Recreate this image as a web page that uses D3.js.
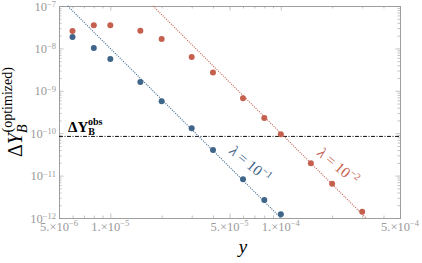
<!DOCTYPE html>
<html>
<head>
<meta charset="utf-8">
<script src="https://d3js.org/d3.v7.min.js"></script>
<style>
  body { margin: 0; background: #fff; }
  text { font-family: "Liberation Serif", "DejaVu Serif", serif; }
</style>
</head>
<body>
<script>
// data
var xBlue = [6e-6, 8e-6, 1e-5, 1.5e-5, 2e-5, 3e-5, 4e-5, 6e-5, 8e-5, 1e-4];
var yBlue = [1.86e-8, 1.02e-8, 5.6e-9, 1.61e-9, 5.7e-10, 1.31e-10, 4.0e-11, 8.2e-12, 2.66e-12, 1.22e-12];
var xRed = [6e-6, 8e-6, 1e-5, 1.5e-5, 2e-5, 3e-5, 4e-5, 6e-5, 8e-5, 1e-4, 1.5e-4, 2e-4, 3e-4];
var yRed = [2.57e-8, 3.5e-8, 3.5e-8, 2.61e-8, 1.67e-8, 6.3e-9, 2.7e-9, 6.65e-10, 2.28e-10, 9.4e-11, 1.95e-11, 6.4e-12, 1.41e-12];
// dotted fit lines (end points)
var xBlueFit = [5.62e-6, 1e-4];
var yBlueFit = [1e-7, 1e-12];
var xRedFit = [1.78e-5, 3.16e-4];
var yRedFit = [1e-7, 1e-12];
var yObs = 8.4e-11;

var xTicks = [5e-6, 1e-5, 5e-5, 1e-4, 5e-4];
var xTickMant = ["5.", "1.", "5.", "1.", "5."];
var xTickExp = ["−6", "−5", "−5", "−4", "−4"];
var yTicks = [1e-12, 1e-11, 1e-10, 1e-9, 1e-8, 1e-7];
var yTickExp = ["−12", "−11", "−10", "−9", "−8", "−7"];

const W = 422, H = 263;
const mLeft = 59, mRight = 400, mTop = 6, mBottom = 218;
const blue = "#3f6589", red = "#c5604f", gray = "#9a9a9a";

const svg = d3.select("body").append("svg")
  .attr("width", W).attr("height", H);

const x = d3.scaleLog().domain([5e-6, 5e-4]).range([mLeft, mRight]);
const y = d3.scaleLog().domain([1e-12, 1e-7]).range([mBottom, mTop]);

// minor ticks
var xMinor = [];
[1e-6, 1e-5, 1e-4].forEach(function(d) {
  for (var k = 1; k <= 9; k++) {
    var v = k * d;
    if (v >= 5e-6 && v <= 5e-4 && xTicks.every(function(t) { return Math.abs(t - v) / v > 1e-6; })) xMinor.push(v);
  }
});
var yMinor = [];
[1e-12, 1e-11, 1e-10, 1e-9, 1e-8].forEach(function(d) {
  for (var k = 2; k <= 9; k++) yMinor.push(k * d);
});

const axes = svg.append("g");
// frame ticks inward on all four sides
axes.append("g").attr("transform", "translate(0," + mBottom + ")")
  .call(d3.axisBottom(x).tickValues(xTicks).tickSize(-4.5).tickFormat(""));
axes.append("g").attr("transform", "translate(0," + mBottom + ")")
  .call(d3.axisBottom(x).tickValues(xMinor).tickSize(-2.5).tickFormat(""));
axes.append("g").attr("transform", "translate(0," + mTop + ")")
  .call(d3.axisTop(x).tickValues(xTicks).tickSize(-4.5).tickFormat(""));
axes.append("g").attr("transform", "translate(0," + mTop + ")")
  .call(d3.axisTop(x).tickValues(xMinor).tickSize(-2.5).tickFormat(""));
axes.append("g").attr("transform", "translate(" + mLeft + ",0)")
  .call(d3.axisLeft(y).tickValues(yTicks).tickSize(-4.5).tickFormat(""));
axes.append("g").attr("transform", "translate(" + mLeft + ",0)")
  .call(d3.axisLeft(y).tickValues(yMinor).tickSize(-2.5).tickFormat(""));
axes.append("g").attr("transform", "translate(" + mRight + ",0)")
  .call(d3.axisRight(y).tickValues(yTicks).tickSize(-4.5).tickFormat(""));
axes.append("g").attr("transform", "translate(" + mRight + ",0)")
  .call(d3.axisRight(y).tickValues(yMinor).tickSize(-2.5).tickFormat(""));
axes.selectAll("path.domain").attr("stroke", gray).attr("stroke-width", 0.8);
axes.selectAll(".tick line").attr("stroke", gray).attr("stroke-width", 0.6);

// tick labels
var xl = svg.append("g").attr("fill", gray).attr("font-size", 12.5).attr("text-anchor", "middle");
xTicks.forEach(function(d, i) {
  var t = xl.append("text").attr("x", x(d)).attr("y", 231);
  t.append("tspan").text(xTickMant[i] + "×10");
  t.append("tspan").attr("dy", -5).attr("font-size", 8.5).text(xTickExp[i]);
});
var yl = svg.append("g").attr("fill", gray).attr("font-size", 12.5).attr("text-anchor", "end");
yTicks.forEach(function(d, i) {
  var t = yl.append("text").attr("x", 56).attr("y", y(d) + 4.5);
  t.append("tspan").text("10");
  t.append("tspan").attr("dy", -3.5).attr("font-size", 8.5).text(yTickExp[i]);
});

// observed value line
svg.append("line")
  .attr("x1", mLeft).attr("x2", mRight)
  .attr("y1", y(yObs)).attr("y2", y(yObs))
  .attr("stroke", "#111").attr("stroke-width", 1)
  .attr("stroke-dasharray", "4,1.5,1,1.5");

// dotted fits
var line = d3.line().x(function(d) { return x(d[0]); }).y(function(d) { return y(d[1]); });
svg.append("path").datum(d3.zip(xBlueFit, yBlueFit)).attr("d", line)
  .attr("fill", "none").attr("stroke", blue).attr("stroke-width", 1.1).attr("stroke-dasharray", "1,1.3");
svg.append("path").datum(d3.zip(xRedFit, yRedFit)).attr("d", line)
  .attr("fill", "none").attr("stroke", red).attr("stroke-width", 1.1).attr("stroke-dasharray", "1,1.3");

// points
svg.append("g").selectAll("circle").data(d3.zip(xRed, yRed)).enter().append("circle")
  .attr("cx", function(d) { return x(d[0]); }).attr("cy", function(d) { return y(d[1]); })
  .attr("r", 3).attr("fill", red);
svg.append("g").selectAll("circle").data(d3.zip(xBlue, yBlue)).enter().append("circle")
  .attr("cx", function(d) { return x(d[0]); }).attr("cy", function(d) { return y(d[1]); })
  .attr("r", 3).attr("fill", blue);

// lambda labels
function lam(cx, cy, exp, col) {
  var t = svg.append("text").attr("transform", "translate(" + cx + "," + cy + ") rotate(40)")
    .attr("text-anchor", "middle").attr("fill", col).attr("font-size", 15);
  t.append("tspan").attr("font-style", "italic").text("λ");
  t.append("tspan").text(" = 10");
  t.append("tspan").attr("dy", -6).attr("font-size", 10).text(exp);
}
lam(247, 168, "−1", blue);
lam(335, 170, "−2", red);

// obs label
var ob = svg.append("text").attr("x", 68).attr("y", 132).attr("font-size", 15).attr("font-weight", "bold");
ob.append("tspan").text("ΔY");
ob.append("tspan").attr("dy", 3).attr("font-size", 10).text("B");
ob.append("tspan").attr("dx", -7).attr("dy", -10).attr("font-size", 10).text("obs");

// axis titles
svg.append("text").attr("x", 243).attr("y", 253).attr("font-size", 19)
  .attr("font-style", "italic").attr("text-anchor", "middle").text("y");

var yt = svg.append("text").attr("transform", "translate(22,157) rotate(-90)").attr("font-size", 20);
yt.append("tspan").text("Δ");
yt.append("tspan").attr("font-style", "italic").text("Y");
yt.append("tspan").attr("font-style", "italic").attr("dy", 5).attr("font-size", 14).text("B");
yt.append("tspan").attr("dx", -8).attr("dy", -15).attr("font-size", 14).text("(optimized)");
</script>
</body>
</html>
